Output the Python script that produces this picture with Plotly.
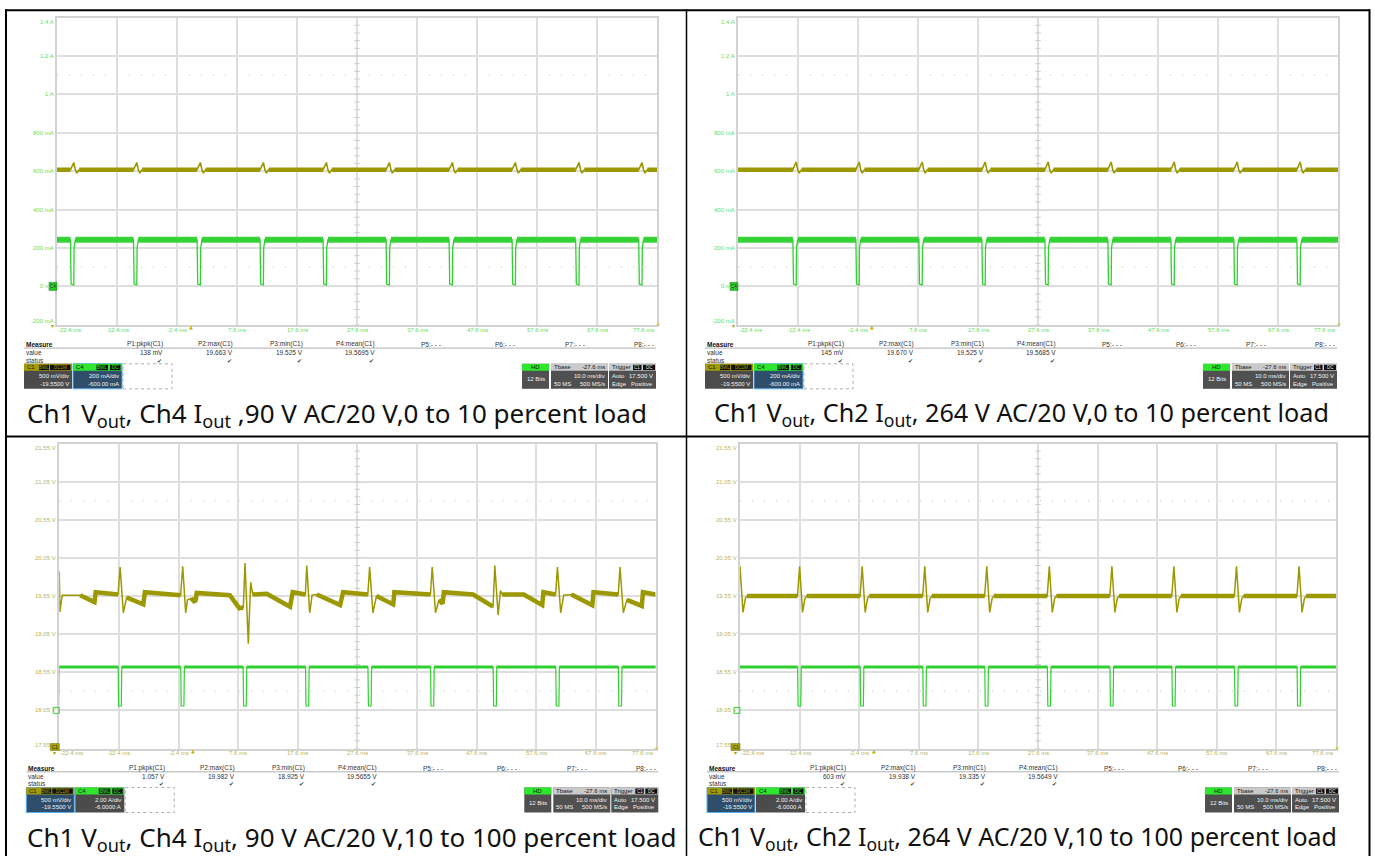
import plotly.graph_objects as go

W, H = 1375, 856

# ---------------- scope scales ----------------
T_START, T_STOP = -22.4, 77.6
TIME_GRID = [-22.4, -12.4, -2.4, 7.6, 17.6, 27.6, 37.6, 47.6, 57.6, 67.6, 77.6]
TIME_LABELS = ["-22.4 ms", "-12.4 ms", "-2.4 ms", "7.6 ms", "17.6 ms", "27.6 ms",
               "37.6 ms", "47.6 ms", "57.6 ms", "67.6 ms", "77.6 ms"]

MA_GRID = [-200, 0, 200, 400, 600, 800, 1000, 1200, 1400]
MA_LABELS = ["-200 mA", "0 mA", "200 mA", "400 mA", "600 mA", "800 mA", "1 A", "1.2 A", "1.4 A"]
V_GRID = [17.55, 18.05, 18.55, 19.05, 19.55, 20.05, 20.55, 21.05, 21.55]
V_LABELS = ["17.55 V", "18.05 V", "18.55 V", "19.05 V", "19.55 V", "20.05 V", "20.55 V", "21.05 V", "21.55 V"]

C1_RANGE = [17.55, 21.55]     # 500 mV/div, offset -19.55 V
C4_MA_RANGE = [-200, 1400]    # 200 mA/div, offset -600 mA
C4_A_RANGE = [-2.0, 14.0]     # 2 A/div, offset -6 A

# ---------------- 0 -> 10 % load captures (Iout in mA) ----------------
tl_steps = [-20.1, -9.6, 1.0, 11.5, 22.0, 32.5, 43.0, 53.5, 64.1, 74.6]
tr_steps = [-13.2, -2.7, 7.8, 18.3, 28.8, 39.3, 49.8, 60.3, 70.8]

light_vout_dt = [-0.05, 0.5, 0.75, 1.0, 1.4]
tl_vout_pulse = [19.57, 19.663, 19.57, 19.525, 19.57]
tr_vout_pulse = [19.57, 19.670, 19.57, 19.525, 19.57]
light_vout_base = 19.57

light_iout_dt = [-0.05, 0.05, 0.5, 0.55, 0.75]
light_iout_ma = [243, 12, 8, 200, 243]
light_iout_base = 243

# ---------------- 10 -> 100 % load captures (Iout in A) ----------------
bl_steps = [-23.0, -12.5, -2.0, 8.46, 18.93, 29.4, 39.9, 50.4, 60.9, 71.4]
br_steps = [-23.1, -12.7, -2.2, 8.3, 18.7, 29.2, 39.7, 50.1, 60.6, 71.1]

heavy_iout_dt = [-0.03, 0.05, 0.5, 0.58]
heavy_iout_a = [2.28, 0.23, 0.23, 2.28]
heavy_iout_base = 2.28

# 90 V AC Vout, traced point by point
bl_vout_t = [-22.4, -22.3, -22.2, -21.9, -18.9, -16.5, -16.3, -12.55, -12.2, -11.66, -11.1,
             -8.31, -8.05, -2.05, -1.7, -1.2, -0.9, -0.3, 0.2, 0.45, 0.65, 6.2, 7.8, 8.46,
             8.75, 9.3, 9.7, 10.05, 12.4, 16.3, 16.75, 18.88, 19.1, 19.6, 20.0, 20.8, 24.7,
             25.2, 29.35, 29.65, 30.2, 30.8, 33.6, 33.8, 39.85, 40.15, 40.7, 41.3, 41.9, 42.1,
             47.0, 50.35, 50.65, 51.2, 51.6, 51.9, 55.5, 58.6, 58.8, 60.85, 61.15, 61.7, 62.2,
             63.5, 67.0, 67.2, 71.35, 71.65, 72.2, 72.8, 75.3, 75.5, 77.6]
bl_vout_v = [19.87, 19.34, 19.40, 19.56, 19.56, 19.47, 19.60, 19.57, 19.93, 19.33, 19.53,
             19.44, 19.60, 19.56, 19.94, 19.33, 19.50, 19.52, 19.48, 19.49, 19.59, 19.56, 19.39, 19.40,
             19.982, 18.925, 19.73, 19.57, 19.58, 19.41, 19.60, 19.57, 19.95, 19.33, 19.56, 19.57, 19.43,
             19.60, 19.57, 19.93, 19.33, 19.55, 19.44, 19.60, 19.57, 19.93, 19.33, 19.50, 19.45, 19.60,
             19.57, 19.41, 19.95, 19.30, 19.62, 19.57, 19.57, 19.43, 19.60, 19.57, 19.93, 19.33, 19.56,
             19.57, 19.43, 19.60, 19.57, 19.93, 19.33, 19.50, 19.42, 19.60, 19.57]

# 264 V AC Vout pulse
br_vout_dt = [-0.05, 0.3, 0.8, 1.2, 1.5]
br_vout_pulse = [19.55, 19.938, 19.335, 19.52, 19.55]
br_vout_base = 19.55

# ---------------- readouts ----------------
MEAS_HEADS = ["P1:pkpk(C1)", "P2:max(C1)", "P3:min(C1)", "P4:mean(C1)",
              "P5:- - -", "P6:- - -", "P7:- - -", "P8:- - -"]
tl_meas = ["138 mV", "19.663 V", "19.525 V", "19.5695 V"]
tr_meas = ["145 mV", "19.670 V", "19.525 V", "19.5685 V"]
bl_meas = ["1.057 V", "19.982 V", "18.925 V", "19.5655 V"]
br_meas = ["603 mV", "19.938 V", "19.335 V", "19.5649 V"]

CAPTIONS = [
    "Ch1 V<sub>out</sub>, Ch4 I<sub>out</sub> ,90 V AC/20 V,0 to 10 percent load",
    "Ch1 V<sub>out</sub>, Ch2 I<sub>out</sub>, 264 V AC/20 V,0 to 10 percent load",
    "Ch1 V<sub>out</sub>, Ch4 I<sub>out</sub>, 90 V AC/20 V,10 to 100 percent load",
    "Ch1 V<sub>out</sub>, Ch2 I<sub>out</sub>, 264 V AC/20 V,10 to 100 percent load",
]

# ---------------- styling ----------------
OLIVE = "#9c9800"
GREEN = "#2fd02f"
GREEN_BAND = "#3ad43a"
GREEN_LBL = "#62dc62"
OLIVE_LBL = "#b8b45c"
GRID = "#dedede"
SCOPE_FONT = "Liberation Sans, Arial, sans-serif"
CAPTION_FONT = "Noto Sans, sans-serif"


def fx(x):
    return x / W


def fy(y):
    return 1 - y / H


def pulse_train(steps, dt, vals, base):
    t, v = [T_START - 2], [base]
    for s in steps:
        t += [s + d for d in dt]
        v += list(vals)
    t.append(T_STOP + 2)
    v.append(base)
    return t, v


def band_of(t, v, steps, lo, hi):
    bt, bv, gap = [], [], False
    for ti, vi in zip(t, v):
        if any(s + lo < ti < s + hi for s in steps):
            if not gap:
                bt.append(None)
                bv.append(None)
                gap = True
        else:
            bt.append(ti)
            bv.append(vi)
            gap = False
    return bt, bv


fig = go.Figure()
shapes, annotations = [], []


def text(x, y, s, size=6.5, color="#222", anchor="left", vanchor="middle", family=SCOPE_FONT):
    annotations.append(dict(x=fx(x), y=fy(y), xref="paper", yref="paper", text=s,
                            showarrow=False, xanchor=anchor, yanchor=vanchor, borderpad=0,
                            font=dict(size=size, color=color, family=family)))


def rect(x0, y0, x1, y1, fill, line=None, width=0, dash="solid"):
    shapes.append(dict(type="rect", xref="paper", yref="paper", x0=fx(x0), x1=fx(x1),
                       y0=fy(y1), y1=fy(y0), fillcolor=fill, layer="above",
                       line=dict(color=line or fill, width=width, dash=dash)))


def hline(x0, x1, y, color, width=1):
    shapes.append(dict(type="line", xref="paper", yref="paper", x0=fx(x0), x1=fx(x1),
                       y0=fy(y), y1=fy(y), line=dict(color=color, width=width), layer="above"))


def vline(x, y0, y1, color, width=1):
    shapes.append(dict(type="line", xref="paper", yref="paper", x0=fx(x), x1=fx(x),
                       y0=fy(y0), y1=fy(y1), line=dict(color=color, width=width), layer="above"))


PANELS = [
    dict(x0=57, x1=657, y0=17.6, y1=324.8, light=True, meas=tl_meas, cap_x=26, cap_size=26),
    dict(x0=738, x1=1338, y0=17.6, y1=324.8, light=True, meas=tr_meas, cap_x=713, cap_size=25.2),
    dict(x0=59.3, x1=655.5, y0=443.5, y1=748.5, light=False, meas=bl_meas, cap_x=26, cap_size=26),
    dict(x0=740, x1=1336, y0=443.5, y1=748.5, light=False, meas=br_meas, cap_x=697, cap_size=25),
]

layout_axes = {}
for i, p in enumerate(PANELS, start=1):
    xname = "xaxis" + ("" if i == 1 else str(i))
    yname = "yaxis" + ("" if i == 1 else str(2 * i - 1))
    oname = "yaxis" + str(2 * i)
    xref = "x" + ("" if i == 1 else str(i))
    yref = "y" + ("" if i == 1 else str(2 * i - 1))
    oref = "y" + str(2 * i)
    light = p["light"]

    main_range = C4_MA_RANGE if light else C1_RANGE
    over_range = C1_RANGE if light else C4_A_RANGE
    ydt = 200 if light else 0.5

    layout_axes[xname] = dict(domain=[fx(p["x0"]), fx(p["x1"])], range=[T_START, T_STOP],
                              tick0=T_START, dtick=10, showgrid=True, gridcolor=GRID, gridwidth=1.5,
                              zeroline=False, showticklabels=False, ticks="", showline=True,
                              linecolor="#d2d2d2", linewidth=1.5, mirror=True, anchor=yref,
                              fixedrange=True)
    layout_axes[yname] = dict(domain=[fy(p["y1"]), fy(p["y0"])], range=main_range,
                              tick0=main_range[0], dtick=ydt, showgrid=True, gridcolor=GRID,
                              gridwidth=1.5, zeroline=False, showticklabels=False, ticks="",
                              showline=True, linecolor="#d2d2d2", linewidth=1.5, mirror=True,
                              anchor=xref, fixedrange=True)
    layout_axes[oname] = dict(range=over_range, overlaying=yref, anchor=xref, visible=False,
                              showgrid=False, zeroline=False, fixedrange=True)

    # centre graticule line with its minor ticks
    shapes.append(dict(type="line", xref=xref, yref=yref + " domain", x0=27.6, x1=27.6, y0=0, y1=1,
                       line=dict(color="#c4c4c4", width=1, dash="3px,2px"), layer="below"))
    lo, hi = main_range
    step = (hi - lo) / 40
    fig.add_trace(go.Scatter(x=[27.6] * 41, y=[lo + k * step for k in range(41)], xaxis=xref,
                             yaxis=yref, mode="markers", hoverinfo="skip", showlegend=False,
                             marker=dict(symbol="line-ew", size=4,
                                         line=dict(color="#cdcdcd", width=1))))
    # dotted cursor lines
    for lvl in ((1100, 100) if light else (20.80, 18.30)):
        shapes.append(dict(type="line", xref=xref + " domain", yref=yref, x0=0, x1=1, y0=lvl, y1=lvl,
                           line=dict(color="#bdbdbd", width=1, dash="1px,11px"), layer="below"))

    # ---- traces ----
    if light:
        steps = tl_steps if i == 1 else tr_steps
        pulse = tl_vout_pulse if i == 1 else tr_vout_pulse
        it, iv = pulse_train(steps, light_iout_dt, light_iout_ma, light_iout_base)
        bt, bv = band_of(it, iv, steps, light_iout_dt[0], light_iout_dt[-1])
        fig.add_trace(go.Scatter(x=bt, y=bv, xaxis=xref, yaxis=yref, mode="lines",
                                 line=dict(color=GREEN_BAND, width=6), hoverinfo="skip", showlegend=False))
        fig.add_trace(go.Scatter(x=it, y=iv, xaxis=xref, yaxis=yref, mode="lines",
                                 line=dict(color=GREEN, width=1.3), hoverinfo="skip", showlegend=False))
        vt, vv = pulse_train(steps, light_vout_dt, pulse, light_vout_base)
        bt, bv = band_of(vt, vv, steps, light_vout_dt[0], light_vout_dt[-1])
        fig.add_trace(go.Scatter(x=bt, y=bv, xaxis=xref, yaxis=oref, mode="lines",
                                 line=dict(color=OLIVE, width=4.5), hoverinfo="skip", showlegend=False))
        fig.add_trace(go.Scatter(x=vt, y=vv, xaxis=xref, yaxis=oref, mode="lines",
                                 line=dict(color=OLIVE, width=1.6), hoverinfo="skip", showlegend=False))
    else:
        steps = bl_steps if i == 3 else br_steps
        it, iv = pulse_train(steps, heavy_iout_dt, heavy_iout_a, heavy_iout_base)
        bt, bv = band_of(it, iv, steps, heavy_iout_dt[0], heavy_iout_dt[-1])
        fig.add_trace(go.Scatter(x=bt, y=bv, xaxis=xref, yaxis=oref, mode="lines",
                                 line=dict(color=GREEN, width=3), hoverinfo="skip", showlegend=False))
        fig.add_trace(go.Scatter(x=it, y=iv, xaxis=xref, yaxis=oref, mode="lines",
                                 line=dict(color=GREEN, width=1.2), hoverinfo="skip", showlegend=False))
        if i == 3:
            vt, vv = bl_vout_t, bl_vout_v
            bt, bv = band_of(vt, vv, steps + [-23.4], 0.001, 1.39)
        else:
            vt, vv = pulse_train([-22.7] + steps[1:], br_vout_dt, br_vout_pulse, br_vout_base)
            bt, bv = band_of(vt, vv, [-22.7] + steps[1:], br_vout_dt[0], br_vout_dt[-1])
        fig.add_trace(go.Scatter(x=bt, y=bv, xaxis=xref, yaxis=yref, mode="lines",
                                 line=dict(color=OLIVE, width=4.5), hoverinfo="skip", showlegend=False))
        fig.add_trace(go.Scatter(x=vt, y=vv, xaxis=xref, yaxis=yref, mode="lines",
                                 line=dict(color=OLIVE, width=1.5), hoverinfo="skip", showlegend=False))

    # ---- axis labels ----
    grid_vals = MA_GRID if light else V_GRID
    grid_txt = MA_LABELS if light else V_LABELS
    lbl_col = GREEN_LBL if light else OLIVE_LBL
    for k, (gv, gt) in enumerate(zip(grid_vals, grid_txt)):
        shift = -4.5 if k == len(grid_vals) - 1 else (3.5 if k == 0 else 0)
        annotations.append(dict(x=fx(p["x0"] - 2), xref="paper", y=gv, yref=yref, text=gt,
                                showarrow=False, xanchor="right", yanchor="middle", yshift=shift,
                                borderpad=0, font=dict(size=6, color=lbl_col, family=SCOPE_FONT)))
    for k, (tv, tt) in enumerate(zip(TIME_GRID, TIME_LABELS)):
        anc = "left" if k == 0 else ("right" if k == len(TIME_GRID) - 1 else "center")
        annotations.append(dict(x=tv, xref=xref, y=fy(p["y1"] + 4.8), yref="paper", text=tt,
                                showarrow=False, xanchor=anc, yanchor="middle",
                                xshift=(-2 if k == len(TIME_GRID) - 1 else 0), borderpad=0,
                                font=dict(size=6, color=lbl_col, family=SCOPE_FONT)))
    # trigger position and end markers
    annotations.append(dict(x=0, xref=xref, y=fy(p["y1"] + 2.5), yref="paper", text="▲",
                            showarrow=False, xanchor="center", yanchor="middle", borderpad=0,
                            font=dict(size=5, color="#c8b400", family="DejaVu Sans")))
    annotations.append(dict(x=T_STOP, xref=xref, y=fy(p["y1"]), yref="paper", text="+",
                            showarrow=False, xanchor="center", yanchor="middle", xshift=1,
                            borderpad=0, font=dict(size=8, color="#d4c000", family=SCOPE_FONT)))

    x0, x1, y1 = p["x0"], p["x1"], p["y1"]
    # channel ground markers
    if light:
        yz = p["y0"] + (1400 - 0) / 1600 * (p["y1"] - p["y0"])
        rect(x0 - 8, yz - 4, x0, yz + 4, "#27c927", line="#157a15", width=0.5)
        text(x0 - 4, yz, "C4", size=4.5, color="#0c300c", anchor="center")
        text(x0 - 5, y1 + 1, "▾", size=6, color="#a8a000", anchor="center", family="DejaVu Sans")
    else:
        yz = p["y0"] + (14 - 0) / 16 * (p["y1"] - p["y0"])
        rect(x0 - 6, yz - 3, x0, yz + 3, "rgba(0,0,0,0)", line="#3ad03a", width=1)
        rect(x0 - 9, y1 - 5, x0, y1 + 2, "#a8a000", line="#6d6800", width=0.5)
        text(x0 - 4.5, y1 - 1.5, "C1", size=4.5, color="#2a2800", anchor="center")
        text(x0 - 4.5, y1 + 4, "▾", size=6, color="#a8a000", anchor="center", family="DejaVu Sans")

    # ---- measurement table ----
    text(x0 - 32, y1 + 19.5, "<b>Measure</b>", size=6.5, color="#111")
    rights = [107, 177, 247, 319, 385, 459, 529, 598]
    for h, r in zip(MEAS_HEADS, rights):
        text(x0 + r, y1 + 19.5, h, anchor="right", color="#333")
    hline(x0 - 33, x0 + 599, y1 + 23.3, "#9a9a9a", 0.8)
    text(x0 - 32, y1 + 27.6, "value", color="#333")
    text(x0 - 32, y1 + 35.4, "status", color="#333")
    for m, r in zip(p["meas"], rights):
        text(x0 + r, y1 + 27.6, m, anchor="right", color="#333")
        text(x0 + r - 1, y1 + 35.4, "✔", anchor="right", color="#444", size=6, family="DejaVu Sans")

    # ---- channel descriptor boxes ----
    yt = y1 + 39

    def chan_box(xl, w, head_fill, label, badges, body, selected):
        rect(xl, yt, xl + w, yt + 25, "#2e4e6c" if selected else "#4b4b4b",
             line="#5aaef0" if selected else "#4b4b4b", width=1 if selected else 0)
        rect(xl, yt, xl + w, yt + 7, head_fill)
        text(xl + 2, yt + 3.6, label, size=6, color="#151515")
        for bx0, bx1, bt_ in badges:
            rect(xl + bx0, yt + 1, xl + bx1, yt + 6.3, "#121212")
            text(xl + (bx0 + bx1) / 2, yt + 3.7, bt_, size=4.5, color=head_fill, anchor="center")
        for k, s in enumerate(body):
            text(xl + w - 2, yt + 12.3 + k * 7.4, s, size=6, color="#f2f2f2", anchor="right")

    if light:
        c1_body, c4_body = ["500 mV/div", "-19.5500 V"], ["200 mA/div", "-600.00 mA"]
    else:
        c1_body, c4_body = ["500 mV/div", "-19.5500 V"], ["2.00 A/div", "-6.0000 A"]
    chan_box(x0 - 33, 48, "#a39d00", "C1", [(15, 25, "BWL"), (26, 46.5, "DC1M")], c1_body, not light)
    chan_box(x0 + 16, 49, "#2ee62e", "C4", [(23.5, 35, "BWL"), (37, 47.5, "DC")], c4_body, light)
    rect(x0 + 66, yt, x0 + 115, yt + 25, "rgba(0,0,0,0)", line="#9a9a9a", width=0.8, dash="dot")

    # acquisition boxes on the right
    xa = x0 + 465
    rect(xa, yt, xa + 27, yt + 25, "#505050")
    rect(xa, yt, xa + 27, yt + 7, "#2ee62e")
    text(xa + 13.5, yt + 3.6, "HD", size=6, color="#151515", anchor="center")
    text(xa + 13.5, yt + 15.5, "12 Bits", size=6, color="#f2f2f2", anchor="center")
    xb = x0 + 494
    rect(xb, yt, xb + 57, yt + 25, "#505050")
    rect(xb, yt, xb + 57, yt + 7, "#cacaca")
    text(xb + 2, yt + 3.6, "Tbase", size=6, color="#151515")
    text(xb + 55, yt + 3.6, "-27.6 ms", size=6, color="#151515", anchor="right")
    text(xb + 55, yt + 12.3, "10.0 ms/div", size=6, color="#f2f2f2", anchor="right")
    text(xb + 2, yt + 19.7, "50 MS", size=6, color="#f2f2f2")
    text(xb + 55, yt + 19.7, "500 MS/s", size=6, color="#f2f2f2", anchor="right")
    xc = x0 + 552
    rect(xc, yt, xc + 47, yt + 25, "#505050")
    rect(xc, yt, xc + 47, yt + 7, "#cacaca")
    text(xc + 2, yt + 3.6, "Trigger", size=6, color="#151515")
    for bx0, bx1, bt_ in [(24, 32.5, "C1"), (34, 46, "DC")]:
        rect(xc + bx0, yt + 1, xc + bx1, yt + 6.3, "#121212")
        text(xc + (bx0 + bx1) / 2, yt + 3.7, bt_, size=4.5, color="#e0e0e0", anchor="center")
    text(xc + 2, yt + 12.3, "Auto", size=6, color="#f2f2f2")
    text(xc + 45, yt + 12.3, "17.500 V", size=6, color="#f2f2f2", anchor="right")
    text(xc + 2, yt + 19.7, "Edge", size=6, color="#f2f2f2")
    text(xc + 45, yt + 19.7, "Positive", size=6, color="#f2f2f2", anchor="right")

    # ---- caption ----
    text(p["cap_x"], y1 + 89, CAPTIONS[i - 1], size=p["cap_size"], color="#111", family=CAPTION_FONT)

# ---- table rules ----
hline(5, 1370, 10.3, "#000", 2)
hline(5, 1370, 436.6, "#000", 2)
vline(6, 9.3, 856, "#000", 2)
vline(686.5, 9.3, 856, "#000", 1.5)
vline(1369.5, 9.3, 856, "#000", 2)

fig.update_layout(width=W, height=H, margin=dict(l=0, r=0, t=0, b=0), autosize=False,
                  paper_bgcolor="white", plot_bgcolor="white", showlegend=False,
                  shapes=shapes, annotations=annotations, **layout_axes)
fig.write_html("out.html")
